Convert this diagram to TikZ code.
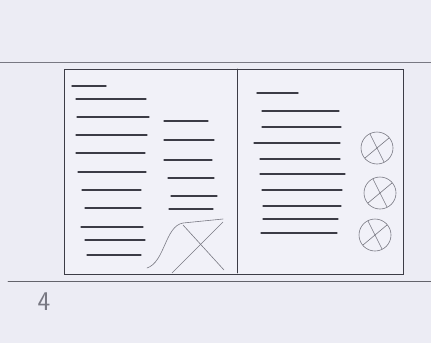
\documentclass[tikz,border=0pt]{standalone}
\usepackage{tikz}
\usetikzlibrary{calc}

\definecolor{paper}{RGB}{236,236,244}
\definecolor{leaf}{RGB}{241,241,248}
\definecolor{lead}{RGB}{60,60,70}
\definecolor{softlead}{RGB}{120,120,130}

\begin{document}
\begin{tikzpicture}[
    x=1pt, y=-1pt,
    pencil/.style={draw=lead, line width=0.9pt, line cap=round},
    textline/.style={draw=lead, line width=1.1pt, line cap=round},
    faint/.style={draw=softlead, line width=0.6pt, line cap=round},
]
% paper
\fill[paper] (0,0) rectangle (431,343);
\useasboundingbox (0,0) rectangle (431,343);
% guide lines of the sheet
\coordinate (topL) at (0,62);
\coordinate (topR) at (431,62);
\coordinate (botL) at (8,281);
\coordinate (botR) at (431,281);
\draw[faint] (topL) -- (topR);
\draw[faint, draw=lead!80] (botL) -- (botR);
% book outline
\coordinate (nw) at (64,69);
\coordinate (se) at (403,274);
\coordinate (spineT) at (237,69);
\coordinate (spineB) at (237,273);
\fill[leaf] (nw) rectangle (se);
\draw[pencil] (nw) rectangle (se);
\draw[pencil] (spineT) -- (spineB);
% left page - heading
\draw[textline, line width=1.4pt] (72,86) -- (106,86);
% left page - long text lines
\foreach \xa/\xb/\y in {76/146/99, 77/149/117, 76/147/135, 76/145/153, 78/146/172,
                        82/141/190, 85/141/208, 81/143/227, 85/145/240, 87/141/255}
    \draw[textline] (\xa,\y) -- (\xb,\y);
% left page - short column
\foreach \xa/\xb/\y in {164/208/121, 164/214/140, 164/212/160, 168/214/178, 171/217/196, 169/213/209}
    \draw[textline] (\xa,\y) -- (\xb,\y);
% left page - picture placeholder
\coordinate (imgA) at (147,268);
\coordinate (imgB) at (183,223);
\coordinate (imgC) at (223,219);
\draw[faint] (imgA) .. controls (165,262) and (165,226) .. (imgB) -- (imgC);
\draw[faint] (172,273) -- (223,222);
\draw[faint] (183,225) -- (224,270);
% right page - heading
\draw[textline, line width=1.4pt] (257,93) -- (298,93);
% right page - text lines
\foreach \xa/\xb/\y in {262/339/111, 262/341/127, 254/340/143, 260/340/159, 260/345/174,
                        262/342/190, 263/341/206, 263/338/219, 261/337/233}
    \draw[textline] (\xa,\y) -- (\xb,\y);
% right page - crossed circles
\foreach \cx/\cy [count=\i] in {377/148, 380/193, 375/235} {
    \coordinate (dot\i) at (\cx,\cy);
    \draw[faint] (dot\i) circle[radius=16pt];
    \draw[faint] ($(dot\i)+(-7,-14)$) -- ($(dot\i)+(7,14)$);
    \draw[faint] ($(dot\i)+(12,-10)$) -- ($(dot\i)+(-12,10)$);
}
% page number
\node[text=softlead, font=\fontsize{27}{27}\selectfont\sffamily] (pagenum) at (44,302) {4};
\end{tikzpicture}
\end{document}
